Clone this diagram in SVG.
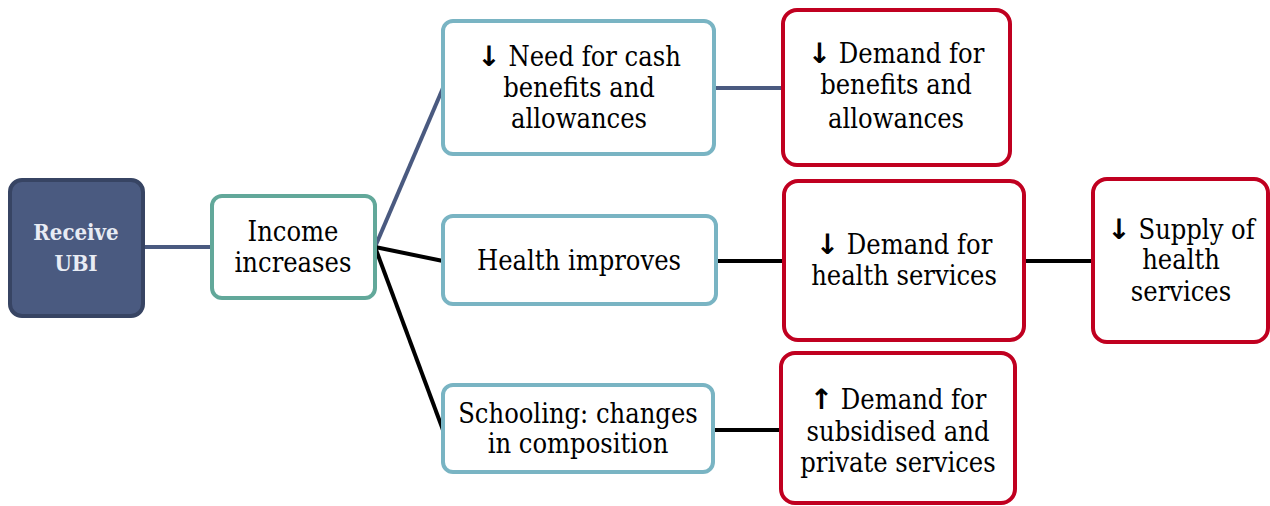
<svg xmlns="http://www.w3.org/2000/svg" width="1270" height="506" viewBox="0 0 1270 506">
  <style>
    .box { fill: #ffffff; stroke-width: 4; }
    .teal { stroke: #62a89a; }
    .blue { stroke: #79b4c3; }
    .red { stroke: #c00020; }
    .t { font-family: "DejaVu Serif Condensed", "DejaVu Serif", "Liberation Serif", serif; font-stretch: condensed; font-size: 27px; fill: #000000; text-anchor: middle; }
    .tw { font-family: "DejaVu Serif Condensed", "DejaVu Serif", "Liberation Serif", serif; font-stretch: condensed; font-size: 22px; font-weight: bold; fill: #e8ecf4; text-anchor: middle; }
    .ar { font-family: "DejaVu Sans", sans-serif; font-stretch: normal; font-weight: bold; font-size: 28px; }
    .ln-b { stroke: #4a5a80; stroke-width: 4; fill: none; }
    .ln-k { stroke: #000000; stroke-width: 4; fill: none; }
  </style>

  <!-- connectors -->
  <g id="connectors">
    <line class="ln-b" x1="143" y1="247" x2="212" y2="247"/>
    <line class="ln-b" x1="375" y1="247" x2="443" y2="88"/>
    <line class="ln-k" x1="375" y1="247" x2="443" y2="261"/>
    <line class="ln-k" x1="375" y1="247" x2="443" y2="430"/>
    <line class="ln-b" x1="714" y1="88" x2="783" y2="88"/>
    <line class="ln-k" x1="716" y1="261" x2="784" y2="261"/>
    <line class="ln-k" x1="1024" y1="261" x2="1093" y2="261"/>
    <line class="ln-k" x1="713" y1="430" x2="781" y2="430"/>
  </g>

  <g id="receive-ubi">
    <rect x="10" y="180" width="133" height="136" rx="12" fill="#4a5a80" stroke="#374463" stroke-width="4"/>
    <text class="tw" x="76" y="240">Receive</text>
    <text class="tw" x="76" y="271">UBI</text>
  </g>

  <g id="income-increases">
    <rect class="box teal" x="212" y="196" width="163" height="102" rx="10"/>
    <text class="t" x="293" y="241">Income</text>
    <text class="t" x="293" y="272">increases</text>
  </g>

  <g id="need-cash">
    <rect class="box blue" x="443" y="21" width="271" height="133" rx="10"/>
    <text class="t" x="579" y="66"><tspan class="ar">↓</tspan> Need for cash</text>
    <text class="t" x="579" y="97">benefits and</text>
    <text class="t" x="579" y="128">allowances</text>
  </g>

  <g id="demand-benefits">
    <rect class="box red" x="783" y="10" width="227" height="155" rx="14"/>
    <text class="t" x="896" y="63"><tspan class="ar">↓</tspan> Demand for</text>
    <text class="t" x="896" y="94">benefits and</text>
    <text class="t" x="896" y="128">allowances</text>
  </g>

  <g id="health-improves">
    <rect class="box blue" x="443" y="216" width="273" height="88" rx="10"/>
    <text class="t" x="579" y="270">Health improves</text>
  </g>

  <g id="demand-health">
    <rect class="box red" x="784" y="181" width="240" height="159" rx="14"/>
    <text class="t" x="904" y="254"><tspan class="ar">↓</tspan> Demand for</text>
    <text class="t" x="904" y="285">health services</text>
  </g>

  <g id="supply-health">
    <rect class="box red" x="1093" y="179" width="175" height="163" rx="14"/>
    <text class="t" x="1181" y="239"><tspan class="ar">↓</tspan> Supply of</text>
    <text class="t" x="1181" y="269">health</text>
    <text class="t" x="1181" y="301">services</text>
  </g>

  <g id="schooling">
    <rect class="box blue" x="443" y="385" width="270" height="87" rx="10"/>
    <text class="t" x="578" y="423">Schooling: changes</text>
    <text class="t" x="578" y="453">in composition</text>
  </g>

  <g id="demand-subsidised">
    <rect class="box red" x="781" y="353" width="234" height="150" rx="14"/>
    <text class="t" x="898" y="409"><tspan class="ar">↑</tspan> Demand for</text>
    <text class="t" x="898" y="441">subsidised and</text>
    <text class="t" x="898" y="472">private services</text>
  </g>
</svg>
